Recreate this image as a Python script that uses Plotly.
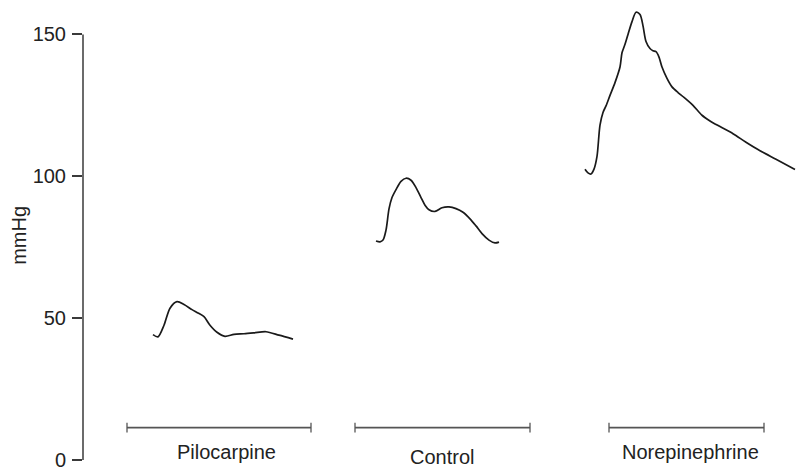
import plotly.graph_objects as go

# Traces: time positions (arbitrary units) and pressure (mmHg)
pilo_t = [69, 74, 80, 86, 93, 100, 108, 114, 120, 126, 133, 141, 150, 160, 170, 182, 195, 209]
pilo_p = [44.2, 43.4, 47.5, 53.5, 55.8, 54.8, 53.0, 51.8, 50.5, 47.5, 45.0, 43.6, 44.3, 44.5, 44.8, 45.2, 44.0, 42.6]

ctrl_t = [292, 296, 299, 302, 305, 308, 312, 317, 322, 327, 332, 337, 341, 345, 351, 358, 365, 372, 379, 386, 392, 398, 405, 411, 415]
ctrl_p = [77.2, 76.9, 77.5, 81.0, 88.5, 92.5, 95.3, 98.2, 99.3, 98.6, 96.0, 92.5, 89.8, 88.2, 87.6, 88.9, 89.2, 88.6, 87.3, 85.0, 82.5, 79.8, 77.5, 76.5, 76.8]

nore_t = [501, 504, 507, 510, 513, 516, 519, 522, 526, 531, 536, 538, 541, 544, 548, 552, 556, 559, 562, 566, 569, 572, 575, 578, 583, 588, 594, 600, 609, 618, 626, 636, 649, 662, 676, 692, 711]
nore_p = [102.5, 101.2, 100.8, 102.5, 107.0, 118.0, 122.5, 124.8, 128.5, 133.0, 138.5, 143.5, 146.5, 150.0, 154.5, 157.8, 157.0, 153.0, 147.5, 145.0, 144.2, 143.9, 142.0, 138.5, 134.5, 131.5, 129.5, 127.8, 125.0, 121.5, 119.5, 117.5, 115.0, 112.0, 109.0, 106.0, 102.4]

# Condition brackets
cond_names = ["Pilocarpine", "Control", "Norepinephrine"]
cond_start = [43, 271, 525]
cond_end = [227, 446, 680]
cond_label_x = [142, 358, 606]
cond_label_y = [2.8, 1.2, 2.8]
bracket_y = 11.4

y_ticks = [0, 50, 100, 150]
y_axis_top = 150
y_title = "mmHg"

ink = "#1a1a1a"
axis_col = "#3a3a3a"
fnt = "Liberation Sans, Arial, Helvetica, sans-serif"

fig = go.Figure()
for t, p in [(pilo_t, pilo_p), (ctrl_t, ctrl_p), (nore_t, nore_p)]:
    fig.add_trace(go.Scatter(x=t, y=p, mode="lines", line=dict(color=ink, width=1.7, shape="spline", smoothing=0.8),
                             showlegend=False, hoverinfo="skip"))

cap = 1.7
for s, e in zip(cond_start, cond_end):
    fig.add_trace(go.Scatter(x=[s, e], y=[bracket_y, bracket_y], mode="lines",
                             line=dict(color="#555555", width=1.8), showlegend=False, hoverinfo="skip"))
    for xx in (s, e):
        fig.add_trace(go.Scatter(x=[xx, xx], y=[bracket_y - cap, bracket_y + cap], mode="lines",
                                 line=dict(color="#555555", width=1.3), showlegend=False, hoverinfo="skip"))

for name, lx, ly in zip(cond_names, cond_label_x, cond_label_y):
    fig.add_annotation(x=lx, y=ly, text=name, showarrow=False, xanchor="center", yanchor="middle",
                       font=dict(family=fnt, size=20, color="#222222"))

# y-axis title
fig.add_annotation(xref="paper", x=0, xshift=-64, yref="y", y=79, text=y_title, textangle=-90,
                   showarrow=False, xanchor="center", yanchor="middle",
                   font=dict(family=fnt, size=20, color="#222222"))

# axis spine only up to the top tick
fig.add_shape(type="line", xref="paper", yref="y", x0=0, x1=0, y0=0, y1=y_axis_top,
              line=dict(color=axis_col, width=1.5))

fig.update_layout(
    width=796, height=471,
    margin=dict(l=83, r=0, t=6, b=6),
    paper_bgcolor="white", plot_bgcolor="white",
    xaxis=dict(range=[-1, 712], visible=False, fixedrange=True),
    yaxis=dict(range=[0, 160], tickvals=y_ticks, ticks="outside", ticklen=10, tickwidth=1.5,
               tickcolor=axis_col, showline=False,
               showgrid=False, zeroline=False, ticklabelstandoff=2, ticklabeloverflow="allow",
               tickfont=dict(family=fnt, size=20, color="#222222")),
)

fig.write_html("out.html")
